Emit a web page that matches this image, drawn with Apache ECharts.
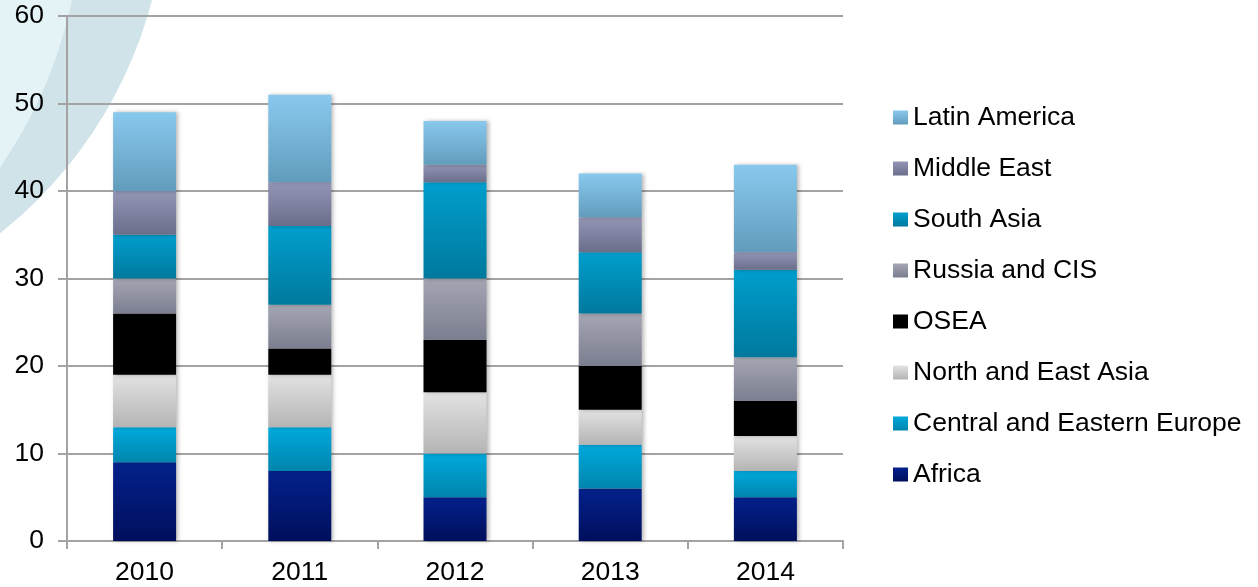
<!DOCTYPE html>
<html>
<head>
<meta charset="utf-8">
<script src="https://cdn.jsdelivr.net/npm/echarts@6/dist/echarts.min.js"></script>
<style>
html,body{margin:0;padding:0;background:#fff;}
#chart{width:1258px;height:587px;}
</style>
</head>
<body>
<div id="chart"></div>
<script>
var categories = ['2010', '2011', '2012', '2013', '2014'];
var africa = [9, 8, 5, 6, 5];
var centralEasternEurope = [4, 5, 5, 5, 3];
var northEastAsia = [6, 6, 7, 4, 4];
var osea = [7, 3, 6, 5, 4];
var russiaCIS = [4, 5, 7, 6, 5];
var southAsia = [5, 9, 11, 7, 10];
var middleEast = [5, 5, 2, 4, 2];
var latinAmerica = [9, 10, 5, 5, 10];
var yTicks = [0, 10, 20, 30, 40, 50, 60];

var FONT = '"Liberation Sans", Arial, sans-serif';

function grad(top, bottom) {
  return new echarts.graphic.LinearGradient(0, 0, 0, 1, [
    {offset: 0, color: top}, {offset: 1, color: bottom}
  ]);
}

var seriesDefs = [
  {name: 'Africa', data: africa, c: grad('#03218c', '#000f5c')},
  {name: 'Central and Eastern Europe', data: centralEasternEurope, c: grad('#00a9dd', '#0085ad')},
  {name: 'North and East Asia', data: northEastAsia, c: grad('#e3e3e3', '#b4b4b4')},
  {name: 'OSEA', data: osea, c: '#000000'},
  {name: 'Russia and CIS', data: russiaCIS, c: grad('#a5a6b4', '#7b7e8f')},
  {name: 'South Asia', data: southAsia, c: grad('#009ecd', '#00799d')},
  {name: 'Middle East', data: middleEast, c: grad('#9395b4', '#6a6e8b')},
  {name: 'Latin America', data: latinAmerica, c: grad('#89c9ee', '#629cbc')}
];

var chart = echarts.init(document.getElementById('chart'), null, {renderer: 'canvas'});

var series = seriesDefs.map(function (s) {
  return {
    name: s.name,
    type: 'bar',
    stack: 'total',
    barWidth: 63,
    data: s.data,
    itemStyle: {
      color: s.c,
      shadowColor: 'rgba(0,0,0,0.28)',
      shadowBlur: 4,
      shadowOffsetX: 2,
      shadowOffsetY: 0
    },
    emphasis: {disabled: true},
    animation: false
  };
});

var option = {
  animation: false,
  backgroundColor: '#ffffff',
  graphic: [
    {type: 'circle', z: -20, silent: true, shape: {cx: -272, cy: -110, r: 438}, style: {fill: '#cfe3e9'}},
    {type: 'circle', z: -19, silent: true, shape: {cx: -379, cy: -95, r: 461}, style: {fill: '#e4f3f6'}}
  ],
  grid: {left: 67, right: 415, top: 16, bottom: 46, containLabel: false},
  legend: {
    orient: 'vertical',
    left: 888,
    top: 98,
    padding: 5,
    itemWidth: 15,
    itemHeight: 14,
    itemGap: 22,
    icon: 'rect',
    selectedMode: false,
    data: ['Latin America', 'Middle East', 'South Asia', 'Russia and CIS', 'OSEA',
           'North and East Asia', 'Central and Eastern Europe', 'Africa'],
    textStyle: {fontFamily: FONT, fontSize: 26.5, color: '#000', lineHeight: 26, padding: [3, 0, 0, 0]}
  },
  xAxis: {
    type: 'category',
    data: categories,
    boundaryGap: true,
    axisLine: {show: true, lineStyle: {color: '#a3a3a3', width: 2}},
    axisTick: {show: true, alignWithLabel: false, length: 8, lineStyle: {color: '#a3a3a3', width: 2}},
    axisLabel: {fontFamily: FONT, fontSize: 26.5, color: '#000', margin: 18},
    splitLine: {show: false}
  },
  yAxis: {
    type: 'value',
    min: 0,
    max: 60,
    interval: 10,
    axisLine: {show: true, lineStyle: {color: '#a3a3a3', width: 2}},
    axisTick: {show: true, length: 9, lineStyle: {color: '#a3a3a3', width: 2}},
    axisLabel: {
      fontFamily: FONT, fontSize: 26.5, color: '#000', margin: 23,
      padding: [4, 0, 0, 0],
      formatter: function (v) { return yTicks.indexOf(v) >= 0 ? String(v) : ''; }
    },
    splitLine: {show: true, lineStyle: {color: '#a3a3a3', width: 2}}
  },
  series: series
};

chart.setOption(option);
</script>
</body>
</html>
